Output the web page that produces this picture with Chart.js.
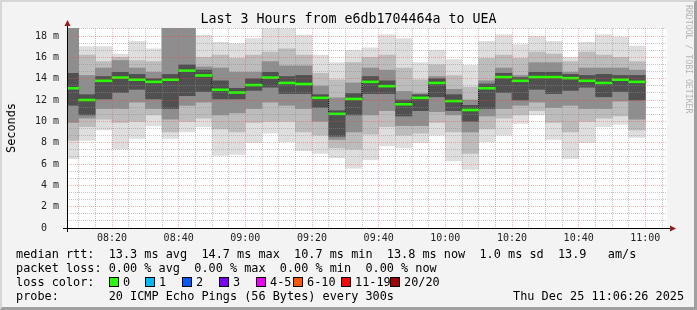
<!DOCTYPE html>
<html>
<head>
<meta charset="utf-8">
<script src="https://cdn.jsdelivr.net/npm/chart.js@4"></script>
<style>
body{margin:0;background:#f3f3f3;}
#wrap{position:relative;width:697px;height:310px;overflow:hidden;font-family:"DejaVu Sans Mono",monospace;color:#000;}
#c{position:absolute;left:0;top:0;}
.t{position:absolute;white-space:pre;font-size:11.85px;line-height:14px;}
.sq{position:absolute;width:8px;height:8px;border:1px solid #000;}
#frame{position:absolute;left:0;top:0;width:697px;height:310px;box-sizing:border-box;border-style:solid;border-width:2px 3px 3px 2px;border-color:#d6d6d6 #a0a0a0 #a0a0a0 #d6d6d6;pointer-events:none;}
</style>
</head>
<body>
<div id="wrap">
  <canvas id="c" width="697" height="310"></canvas>
  <div class="t" style="left:0;width:697px;top:10px;text-align:center;font-size:13.3px;line-height:17px">Last 3 Hours from e6db1704464a to UEA</div>
  <div class="t" style="left:11px;top:128px;transform:translate(-50%,-50%) rotate(-90deg)">Seconds</div>
  <div class="t" style="left:684px;top:5px;font-size:8.2px;line-height:9px;writing-mode:vertical-rl;color:#b4b4b4">RRDTOOL / TOBI OETIKER</div>
  <div class="t" style="left:16px;top:247px">median rtt:  13.3 ms avg  14.7 ms max  10.7 ms min  13.8 ms now  1.0 ms sd  13.9   am/s</div>
  <div class="t" style="left:16px;top:261px">packet loss: 0.00 % avg  0.00 % max  0.00 % min  0.00 % now</div>
  <div class="t" style="left:16px;top:275px">loss color:</div>
  <div id="loss"></div>
  <div class="t" style="left:16px;top:289px">probe:       20 ICMP Echo Pings (56 Bytes) every 300s</div>
  <div class="t" style="left:513px;top:289px">Thu Dec 25 11:06:26 2025</div>
  <div id="frame"></div>
</div>
<script>
// 5 minute bins, labelled by end time
const binEnd=['08:10','08:15','08:20','08:25','08:30','08:35','08:40','08:45','08:50','08:55',
  '09:00','09:05','09:10','09:15','09:20','09:25','09:30','09:35','09:40','09:45',
  '09:50','09:55','10:00','10:05','10:10','10:15','10:20','10:25','10:30','10:35',
  '10:40','10:45','10:50','10:55','11:00'];
// median rtt (ms)
const median=[13.1,12.0,13.8,14.1,13.9,13.7,13.9,14.75,14.3,12.96,
  12.7,13.4,14.1,13.6,13.5,12.2,10.7,12.1,13.7,13.3,
  11.6,12.2,13.6,11.9,11.06,13.1,14.15,13.8,14.15,14.15,
  14.05,13.8,13.6,13.9,13.7];
// smoke: outer (min/max) to inner ping ranges (ms)
const lo1=[6.5,8.2,9.2,7.4,8.4,9.6,8.4,9.0,9.5,6.8,6.9,8.0,8.9,8.1,7.25,7.0,6.6,5.6,6.4,7.7,
  7.5,8.0,8.7,6.3,5.5,8.1,8.7,9.8,10.6,8.3,6.5,8.0,9.5,9.7,8.5];
const hi1=[20,17.0,17.0,16.3,17.5,16.8,20,20,18.06,17.4,17.3,17.75,18.7,18.7,18.06,16.2,15.5,16.65,16.9,18.1,
  17.75,15.5,16.65,15.8,15.25,17.5,18.1,17.2,18.0,17.5,16.0,17.4,18.1,17.9,17.06];
const lo2=[8.2,9.5,10.2,9.9,10.0,10.6,9.0,10.0,10.3,9.3,9.0,9.9,10.0,10.0,9.0,8.7,7.5,7.4,8.8,9.5,
  8.7,8.9,9.9,9.0,7.0,9.3,10.3,10.6,11.0,9.9,9.0,10.0,10.3,10.5,9.2];
const hi2=[20,16.2,15.6,16.0,15.7,15.6,20,20,16.0,16.2,15.9,16.2,16.5,16.8,16.2,14.5,13.9,15.5,16.0,16.2,
  15.0,13.9,15.3,14.3,13.2,15.9,16.2,15.9,16.5,16.3,15.6,16.5,16.2,16.0,15.6];
const lo3=[9.9,10.3,11.2,11.2,11.8,11.2,10.2,11.5,11.8,10.6,10.8,11.2,11.8,11.5,11.2,10.0,8.3,9.0,10.6,11.0,
  9.6,9.6,10.9,10.6,9.0,10.5,11.2,11.5,11.8,11.3,11.5,11.2,11.2,11.9,10.2];
const hi3=[20,14.3,15.0,15.7,15.0,14.6,20,20,15.1,15.0,14.6,14.6,15.6,15.2,15.2,13.3,12.2,13.6,15.0,14.8,
  12.8,12.6,14.2,13.0,12.0,13.8,15.0,14.3,15.5,15.5,14.6,15.0,15.0,15.0,14.8];
const lo4=[11.5,10.6,12.1,12.7,13.0,12.1,11.2,12.4,12.8,12.1,12.1,12.9,13.2,12.6,12.6,11.3,8.6,10.6,12.6,12.6,
  10.5,11.0,12.3,11.0,10.0,11.2,12.7,12.0,13.0,12.6,12.9,13.2,12.3,12.8,12.0];
const hi4=[14.5,12.5,14.2,14.6,14.4,14.0,14.4,15.3,14.8,13.8,13.1,14.0,14.6,14.2,14.3,12.5,11.0,12.6,14.2,13.8,
  12.0,12.5,14.0,12.5,11.5,13.5,14.5,14.1,14.6,14.6,14.4,14.3,14.4,14.3,14.3];
const xTickLabels=['08:20','08:40','09:00','09:20','09:40','10:00','10:20','10:40','11:00'];
const yTicks=[0,2,4,6,8,10,12,14,16,18];
const lossColors=[['0','#26ff00'],['1','#00b8ff'],['2','#0059ff'],['3','#7e00ff'],
  ['4-5','#ee00ff'],['6-10','#ff5500'],['11-19','#ff0000'],['20/20','#a10000']];

const toMin=s=>{const [h,m]=s.split(':').map(Number);return h*60+m;};
const viewStart=toMin('08:06')+0.5, viewEnd=toMin('11:06')+0.5, yTop=18.75;
const centres=binEnd.map(t=>toMin(t)-2.5);

// loss colour legend
const sqX=[109,145,182,219,256,293,341,390];
const lossBox=document.getElementById('loss');
lossColors.forEach(([lab,col],i)=>{
  const s=document.createElement('div');
  s.className='sq';s.style.left=sqX[i]+'px';s.style.top='277px';s.style.background=col;
  lossBox.appendChild(s);
  const t=document.createElement('div');
  t.className='t';t.style.left=(sqX[i]+14)+'px';t.style.top='275px';t.textContent=lab;
  lossBox.appendChild(t);
});

const band=(lo,hi,color)=>({type:'bar',
  data:centres.map((x,i)=>({x,y:[lo[i],hi[i]]})),
  backgroundColor:color,borderWidth:0,grouped:false,barPercentage:1,categoryPercentage:1});

const minorCol='rgba(140,140,140,0.5)', majorCol='rgba(240,70,70,0.42)';

const decor={id:'decor',
  beforeDraw(c){const {ctx,chartArea:a}=c;ctx.save();ctx.fillStyle='#fff';
    ctx.fillRect(a.left,a.top,a.right-a.left,a.bottom-a.top);ctx.restore();},
  afterDraw(c){const {ctx,chartArea:a}=c;ctx.save();
    ctx.strokeStyle='#000';ctx.lineWidth=1;ctx.beginPath();
    ctx.moveTo(a.left-4,a.bottom+0.5);ctx.lineTo(a.right+3,a.bottom+0.5);
    ctx.moveTo(a.left+0.5,a.bottom+4);ctx.lineTo(a.left+0.5,a.top-4);ctx.stroke();
    ctx.fillStyle='#9b1b1b';ctx.beginPath();
    ctx.moveTo(a.left+0.5,a.top-8);ctx.lineTo(a.left-2.5,a.top-2);ctx.lineTo(a.left+3.5,a.top-2);ctx.fill();
    ctx.beginPath();ctx.moveTo(a.right+9,a.bottom+0.5);ctx.lineTo(a.right+3,a.bottom-2.5);ctx.lineTo(a.right+3,a.bottom+3.5);ctx.fill();
    ctx.restore();}};

new Chart(document.getElementById('c'),{
  type:'bar',
  data:{datasets:[
    {type:'bar',data:centres.map((x,i)=>({x,y:[median[i]-0.09,median[i]+0.09]})),
      backgroundColor:'#26ff00',borderWidth:0,grouped:false,barPercentage:1,categoryPercentage:1},
    {type:'line',data:centres.map((x,i)=>({x,y:median[i]})),stepped:'middle',
      borderColor:'#000',borderWidth:1,borderDash:[1,1],pointRadius:0,fill:false},
    band(lo4,hi4,'#505050'),
    band(lo3,hi3,'#8e8e8e'),
    band(lo2,hi2,'#bcbcbc'),
    band(lo1,hi1,'#dedede')
  ]},
  options:{
    responsive:false,animation:false,
    layout:{padding:{top:28,right:30,bottom:65,left:0}},
    plugins:{legend:{display:false},tooltip:{enabled:false},title:{display:false}},
    scales:{
      x:{type:'linear',min:viewStart,max:viewEnd,offset:false,z:2,
        afterBuildTicks:s=>{s.ticks=xTickLabels.map(t=>({value:toMin(t)}));},
        afterFit:s=>{s.height=17;},
        ticks:{callback:(v,i)=>xTickLabels[i],font:{family:'DejaVu Sans Mono',size:10},color:'#222',padding:4,maxRotation:0,autoSkip:false},
        grid:{color:majorCol,drawTicks:false,offset:false,z:2},
        border:{display:false,dash:[1,1]}},
      xm:{type:'linear',position:'bottom',min:viewStart,max:viewEnd,offset:false,z:1,
        afterBuildTicks:s=>{const a=[];for(let v=Math.ceil(viewStart/5)*5;v<=viewEnd;v+=5){if(v%20)a.push({value:v});}s.ticks=a;},
        afterFit:s=>{s.height=0;},
        ticks:{display:false},grid:{color:minorCol,drawTicks:false,offset:false,z:1},
        border:{display:false,dash:[1,1]}},
      y:{type:'linear',min:0,max:yTop,z:2,
        afterBuildTicks:s=>{s.ticks=yTicks.map(v=>({value:v}));},
        afterFit:s=>{s.width=67;},
        ticks:{callback:v=>v===0?'0  ':v+' m',font:{family:'DejaVu Sans Mono',size:10},color:'#222',padding:8},
        grid:{color:majorCol,drawTicks:false,z:2},
        border:{display:false,dash:[1,1]}},
      ym:{type:'linear',position:'left',min:0,max:yTop,z:1,
        afterBuildTicks:s=>{const a=[];for(let k=0;k*2/3<=yTop;k++){if(k%3)a.push({value:k*2/3});}s.ticks=a;},
        afterFit:s=>{s.width=0;},
        ticks:{display:false},grid:{color:minorCol,drawTicks:false,z:1},
        border:{display:false,dash:[1,1]}}
    }
  },
  plugins:[decor]
});
</script>
</body>
</html>
